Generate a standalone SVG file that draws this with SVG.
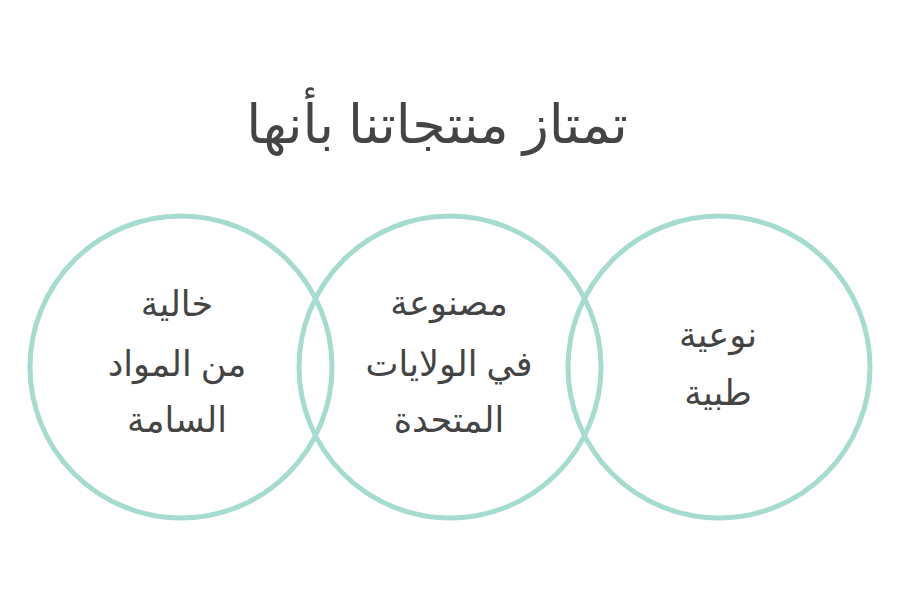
<svg xmlns="http://www.w3.org/2000/svg" width="900" height="600" viewBox="0 0 900 600">
<style>
.c{fill:none;stroke:#a6dbcf;stroke-width:5}
.t{font-family:"Noto Sans","DejaVu Sans",sans-serif;fill:#444444;text-anchor:middle;direction:rtl}
.l{font-size:35px}
.h{font-size:54px}
</style>
<rect width="900" height="600" fill="#ffffff"/>
<text class="t h" x="437" y="143">تمتاز منتجاتنا بأنها</text>
<g id="node-left">
<circle class="c" cx="181" cy="367" r="151"/>
<text class="t l" x="177" y="316">خالية</text>
<text class="t l" x="177" y="376">من المواد</text>
<text class="t l" x="177" y="432">السامة</text>
</g>
<g id="node-middle">
<circle class="c" cx="450" cy="367" r="151"/>
<text class="t l" x="449" y="315">مصنوعة</text>
<text class="t l" x="449" y="376">في الولايات</text>
<text class="t l" x="449" y="432">المتحدة</text>
</g>
<g id="node-right">
<circle class="c" cx="719" cy="367" r="151"/>
<text class="t l" x="718" y="347">نوعية</text>
<text class="t l" x="718" y="405">طبية</text>
</g>
<g id="connectors"></g>
</svg>
